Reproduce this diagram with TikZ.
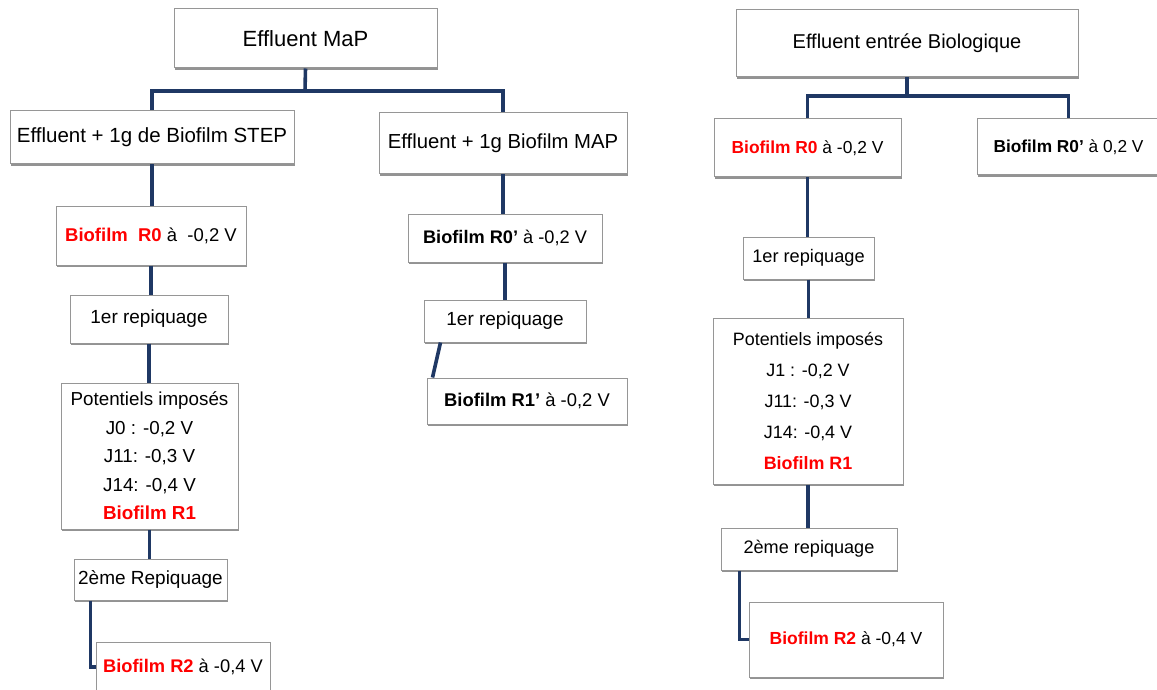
\documentclass[tikz,border=0pt]{standalone}
\usepackage{fontspec}
\setmainfont{Liberation Sans}
\usetikzlibrary{shadows}
\definecolor{navy}{RGB}{31,56,100}
\definecolor{bred}{RGB}{255,0,0}
\definecolor{bord}{RGB}{150,150,150}
\newcommand{\rb}[1]{\textcolor{bred}{\bfseries #1}}
\newcommand{\fsz}[2]{\fontsize{#1}{#2}\selectfont}
\begin{document}
\begin{tikzpicture}[x=1pt,y=-1pt,
  box/.style={draw=bord, line width=1pt, fill=white, inner sep=0pt, align=center,
    general shadow={shadow xshift=1.2pt, shadow yshift=-1.6pt, fill=gray!85}},
  link/.style={draw=navy, line width=3.6pt},
]
\useasboundingbox (0,0) rectangle (1157,690);
% ---------- left tree ----------
\node[box,font=\fsz{22}{26},minimum width=263pt,minimum height=59pt] (map) at (305.5,38.5) {Effluent MaP};
\node[box,font=\fsz{20.5}{24},minimum width=284pt,minimum height=53pt] (step) at (152,137.5) {Effluent + 1g de Biofilm STEP};
\node[box,font=\fsz{20.3}{24},minimum width=248pt,minimum height=61pt] (mapb) at (503,143.5) {Effluent + 1g Biofilm MAP};
\node[box,font=\fsz{18.5}{22},minimum width=190pt,minimum height=59pt] (r0) at (151,235.5) {\rb{Biofilm\ \ R0} à\ \ -0,2 V};
\node[box,font=\fsz{18.2}{22},minimum width=194pt,minimum height=48pt] (r0p) at (505,238) {\textbf{Biofilm R0'} à -0,2 V};
\node[box,font=\fsz{19}{22},minimum width=158pt,minimum height=48pt] (rep1) at (149,319) {1er repiquage};
\node[box,font=\fsz{18.8}{28.5},minimum width=177pt,minimum height=146pt] (pot) at (149.5,456)
  {Potentiels imposés\\J0 : -0,2 V\\J11: -0,3 V\\J14: -0,4 V\\\rb{Biofilm R1}};
\node[box,font=\fsz{19}{22},minimum width=153pt,minimum height=41pt] (rep2) at (150.5,579.5) {2ème Repiquage};
\node[box,font=\fsz{18.3}{22},minimum width=174pt,minimum height=50pt] (r2) at (183,667) {\rb{Biofilm R2} à -0,4 V};
\node[box,font=\fsz{19}{22},minimum width=162pt,minimum height=42pt] (rep1b) at (505,321) {1er repiquage};
\node[box,font=\fsz{18.4}{22},minimum width=200pt,minimum height=46pt] (r1p) at (527,401) {\textbf{Biofilm R1'} à -0,2 V};
% ---------- right tree ----------
\node[box,font=\fsz{20}{24},minimum width=342pt,minimum height=67pt] (ebio) at (907,43.5) {Effluent entrée Biologique};
\node[box,font=\fsz{17.4}{21},minimum width=187pt,minimum height=58pt] (r0r) at (807.5,148) {\rb{Biofilm R0} à -0,2 V};
\node[box,font=\fsz{17.3}{21},minimum width=183pt,minimum height=56pt] (r0pr) at (1068.5,147) {\textbf{Biofilm R0'} à 0,2 V};
\node[box,font=\fsz{18.2}{21},minimum width=131pt,minimum height=42pt] (rep1r) at (808.5,258) {1er repiquage};
\node[box,font=\fsz{17.9}{31},minimum width=190pt,minimum height=166pt] (potr) at (808,401)
  {Potentiels imposés\\J1 : -0,2 V\\J11: -0,3 V\\J14: -0,4 V\\\rb{Biofilm R1}};
\node[box,font=\fsz{18.1}{21},minimum width=176pt,minimum height=42pt] (rep2r) at (809,549) {2ème repiquage};
\node[box,font=\fsz{17.5}{21},minimum width=194pt,minimum height=75pt] (r2r) at (846,639.5) {\rb{Biofilm R2} à -0,4 V};
% ---------- connectors ----------
\coordinate (j1) at (305,91);
\coordinate (j2) at (907,96);
\draw[link] (map.south) -- (j1);
\draw[link] (j1) -| (step.north);
\draw[link] (j1) -| (mapb.north);
\draw[link] (step.south) -- (step.south |- r0.north);
\draw[link] (r0.south) -- (r0.south |- rep1.north);
\draw[link] (rep1.south) -- (rep1.south |- pot.north);
\draw[link] (pot.south) -- (pot.south |- rep2.north);
\draw[link] ([xshift=17pt]rep2.south west) |- (r2.west);
\draw[link] (mapb.south) -- (mapb.south |- r0p.north);
\draw[link] (r0p.south) -- (r0p.south |- rep1b.north);
\draw[link] ([xshift=17pt]rep1b.south west) -- ([xshift=6pt]r1p.north west);
\draw[link] (ebio.south) -- (j2);
\draw[link] (j2) -| (r0r.north);
\draw[link] (j2) -| (r0pr.north);
\draw[link] (r0r.south) -- (r0r.south |- rep1r.north);
\draw[link] (rep1r.south) -- (rep1r.south |- potr.north);
\draw[link] (potr.south) -- (potr.south |- rep2r.north);
\draw[link] ([xshift=19pt]rep2r.south west) |- (r2r.west);
\end{tikzpicture}
\end{document}
